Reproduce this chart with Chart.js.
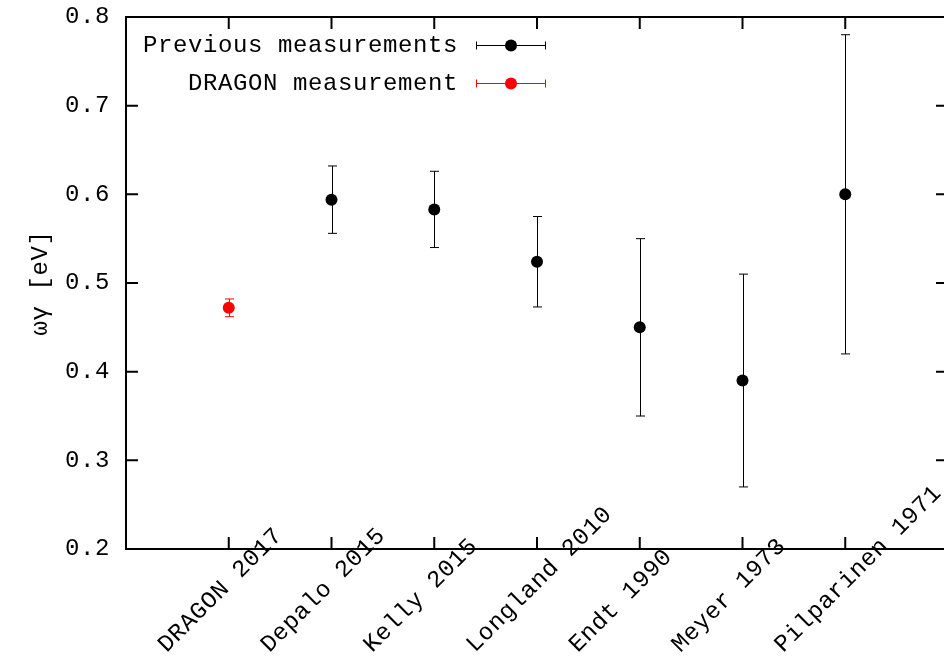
<!DOCTYPE html>
<html>
<head>
<meta charset="utf-8">
<script src="https://cdn.jsdelivr.net/npm/chart.js@4/dist/chart.umd.min.js"></script>
<style>
  html, body { margin: 0; padding: 0; background: #fff; overflow: hidden; }
  canvas { display: block; }
</style>
</head>
<body>
<canvas id="chart" width="960" height="656"></canvas>
<script>
// measurements, in the order they appear on the x axis
const categories = ['DRAGON 2017', 'Depalo 2015', 'Kelly 2015', 'Longland 2010', 'Endt 1990', 'Meyer 1973', 'Pilparinen 1971'];
const values = [0.472, 0.594, 0.583, 0.524, 0.450, 0.390, 0.600];
const errors = [0.010, 0.038, 0.043, 0.051, 0.100, 0.120, 0.180];
const dragonIdx = [0];
const previousIdx = [1, 2, 3, 4, 5, 6];

const yMin = 0.2, yMax = 0.8, yStep = 0.1;
const yTitle = 'ωγ [eV]';

const FONT = '"Liberation Mono", "DejaVu Sans Mono", monospace';
const FSIZE = 24;

function points(idx) {
    return idx.map(i => ({ x: i + 1, y: values[i], err: errors[i] }));
}

// gnuplot style frame, inward ticks, rotated labels, key and error bars
const gnuplotLook = {
    id: 'gnuplotLook',
    beforeDraw(chart) {
        chart.ctx.letterSpacing = '0.6px';
    },
    beforeDatasetsDraw(chart) {
        const ctx = chart.ctx;
        const xs = chart.scales.x, ys = chart.scales.y;
        ctx.save();
        ctx.lineWidth = 1;
        chart.data.datasets.forEach(ds => {
            ctx.strokeStyle = ds.backgroundColor;
            ds.data.forEach(p => {
                const x = Math.round(xs.getPixelForValue(p.x)) + 0.5;
                const y1 = ys.getPixelForValue(p.y + p.err);
                const y2 = ys.getPixelForValue(p.y - p.err);
                ctx.beginPath();
                ctx.moveTo(x, y1); ctx.lineTo(x, y2);
                ctx.moveTo(x - 4.5, y1); ctx.lineTo(x + 4.5, y1);
                ctx.moveTo(x - 4.5, y2); ctx.lineTo(x + 4.5, y2);
                ctx.stroke();
            });
        });
        ctx.restore();
    },
    afterDraw(chart) {
        const ctx = chart.ctx;
        const a = chart.chartArea;
        const xs = chart.scales.x, ys = chart.scales.y;
        ctx.save();
        ctx.strokeStyle = '#000';
        ctx.lineWidth = 2;
        ctx.strokeRect(a.left, a.top, a.right - a.left, a.bottom - a.top);

        // inward ticks on all four sides
        ctx.beginPath();
        ys.ticks.forEach(t => {
            const y = ys.getPixelForValue(t.value);
            ctx.moveTo(a.left, y); ctx.lineTo(a.left + 12, y);
            ctx.moveTo(a.right, y); ctx.lineTo(a.right - 12, y);
        });
        categories.forEach((c, i) => {
            const x = xs.getPixelForValue(i + 1);
            ctx.moveTo(x, a.bottom); ctx.lineTo(x, a.bottom - 12);
            ctx.moveTo(x, a.top); ctx.lineTo(x, a.top + 12);
        });
        ctx.stroke();

        // rotated category labels
        ctx.fillStyle = '#000';
        ctx.font = FSIZE + 'px ' + FONT;
        ctx.textAlign = 'left';
        ctx.textBaseline = 'alphabetic';
        categories.forEach((c, i) => {
            const x = xs.getPixelForValue(i + 1);
            ctx.save();
            ctx.translate(x - 62, a.bottom + 104);
            ctx.rotate(-Math.PI / 4);
            ctx.fillText(c, 0, 0);
            ctx.restore();
        });

        // key
        chart.data.datasets.forEach((ds, k) => {
            const y = 45 + k * 38;
            ctx.fillStyle = '#000';
            ctx.textAlign = 'right';
            ctx.textBaseline = 'middle';
            ctx.fillText(ds.label, 458, y + 1);
            ctx.strokeStyle = ds.backgroundColor;
            ctx.lineWidth = 1;
            const yy = Math.round(y) + 0.5;
            ctx.beginPath();
            ctx.moveTo(476, yy); ctx.lineTo(546, yy);
            ctx.moveTo(476.5, yy - 4); ctx.lineTo(476.5, yy + 4);
            ctx.moveTo(545.5, yy - 4); ctx.lineTo(545.5, yy + 4);
            ctx.stroke();
            ctx.fillStyle = ds.backgroundColor;
            ctx.beginPath();
            ctx.arc(511, yy, 6, 0, Math.PI * 2);
            ctx.fill();
        });
        ctx.restore();
    }
};

const ctx = document.getElementById('chart').getContext('2d');
new Chart(ctx, {
    type: 'scatter',
    data: {
        datasets: [{
            label: 'Previous measurements',
            data: points(previousIdx),
            backgroundColor: '#000000',
            borderWidth: 0,
            pointRadius: 6
        }, {
            label: 'DRAGON measurement',
            data: points(dragonIdx),
            backgroundColor: '#ff0000',
            borderWidth: 0,
            pointRadius: 6
        }]
    },
    options: {
        responsive: false,
        devicePixelRatio: 1,
        animation: false,
        layout: { padding: { top: 17, right: 12, left: 0, bottom: 0 } },
        plugins: {
            legend: { display: false },
            tooltip: { enabled: false }
        },
        scales: {
            x: {
                type: 'linear',
                min: 0,
                max: categories.length + 1,
                grid: { display: false, drawTicks: false },
                border: { display: false },
                ticks: { display: false, stepSize: 1 },
                afterFit(scale) { scale.height = 107; }
            },
            y: {
                min: yMin,
                max: yMax,
                grid: { display: false, drawTicks: false },
                border: { display: false },
                ticks: {
                    stepSize: yStep,
                    padding: 16,
                    color: '#000',
                    font: { family: FONT, size: FSIZE },
                    callback: v => v.toFixed(1)
                },
                title: {
                    display: true,
                    text: yTitle,
                    color: '#000',
                    font: { family: FONT, size: FSIZE },
                    padding: { top: 26, bottom: 0 }
                },
                afterFit(scale) {
                    scale.width = 126;
                    scale.paddingTop = 0;
                    scale.paddingBottom = 0;
                }
            }
        }
    },
    plugins: [gnuplotLook]
});
</script>
</body>
</html>
